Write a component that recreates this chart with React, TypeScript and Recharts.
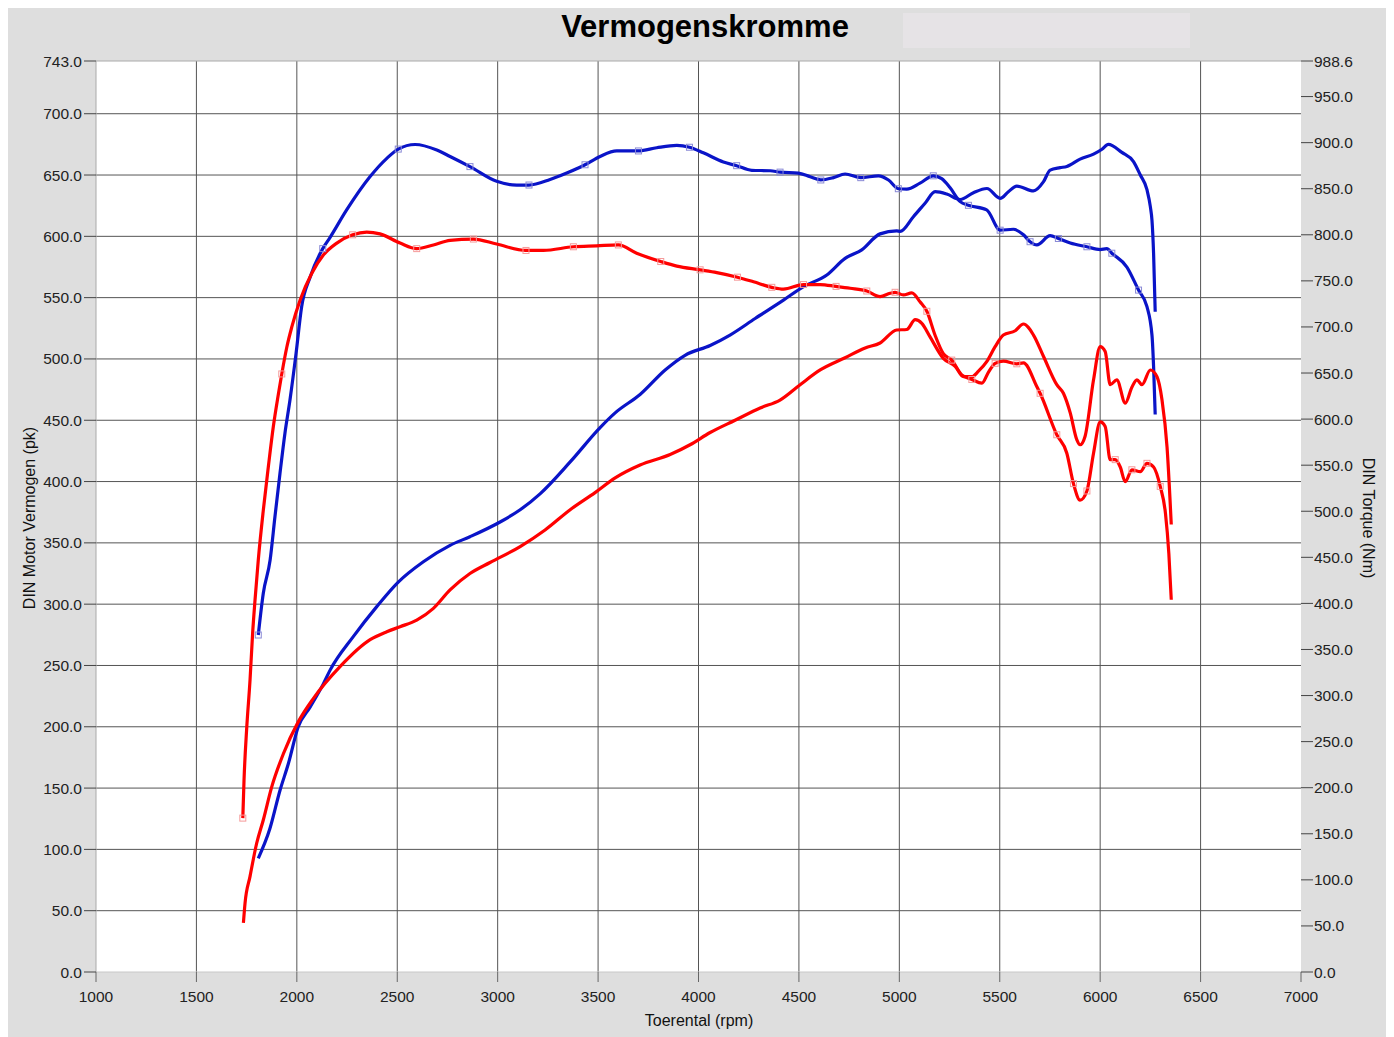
import React from 'react';
import { ComposedChart, Line, XAxis, YAxis, CartesianGrid, ReferenceLine } from 'recharts';

const xTicks = [1000, 1500, 2000, 2500, 3000, 3500, 4000, 4500, 5000, 5500, 6000, 6500, 7000];
const pkTicks = [0, 50, 100, 150, 200, 250, 300, 350, 400, 450, 500, 550, 600, 650, 700, 743];
const nmTicks = [0, 50, 100, 150, 200, 250, 300, 350, 400, 450, 500, 550, 600, 650, 700, 750, 800, 850, 900, 950, 988.6];
const gridPk = [50, 100, 150, 200, 250, 300, 350, 400, 450, 500, 550, 600, 650, 700];
const gridRpm = [1500, 2000, 2500, 3000, 3500, 4000, 4500, 5000, 5500, 6000, 6500];

// Blue torque (Nm)
const btRpm = [1808, 1833, 1867, 1891, 1916, 1941, 1966, 1996, 2024, 2066, 2129, 2165, 2248, 2364, 2448, 2505, 2589, 2697, 2763, 2862, 2995, 3095, 3156, 3261, 3344, 3435, 3510, 3593, 3701, 3792, 3892, 3955, 4024, 4124, 4190, 4265, 4357, 4406, 4497, 4556, 4609, 4672, 4730, 4808, 4896, 4946, 4995, 5037, 5103, 5169, 5211, 5253, 5303, 5344, 5435, 5502, 5568, 5618, 5651, 5685, 5751, 5792, 5851, 5934, 6000, 6033, 6058, 6133, 6191, 6233, 6258, 6266, 6274];
const btNm = [365.7, 411, 447, 494, 541, 585, 621, 671, 722, 754, 785, 797, 827, 863, 883, 893, 898, 892, 885, 874, 858, 854, 854, 860, 867, 876, 885, 891, 891, 894.5, 897, 895, 889, 879, 875, 870, 869.5, 868, 867, 863, 859.5, 862, 866, 862, 864, 859.5, 850, 849.5, 856, 864, 861, 851, 836, 832, 827, 805, 806, 800, 792.5, 789, 799, 796, 791, 787, 784, 785, 780, 765, 740, 722, 691, 657, 605];
const btMarks = [0, 10, 15, 19, 22, 25, 28, 31, 34, 37, 40, 43, 46, 49, 53, 55, 58, 61, 63, 66, 68];

// Blue power (pk)
const bpRpm = [1808, 1866, 1916, 1958, 2007, 2066, 2132, 2165, 2281, 2398, 2505, 2630, 2763, 2862, 3012, 3112, 3211, 3361, 3510, 3585, 3709, 3834, 3933, 4058, 4157, 4282, 4423, 4523, 4639, 4730, 4813, 4904, 4987, 5004, 5070, 5128, 5178, 5236, 5303, 5369, 5436, 5502, 5543, 5585, 5668, 5718, 5751, 5801, 5834, 5900, 5967, 6009, 6041, 6108, 6166, 6200, 6233, 6250, 6258, 6266, 6274];
const bpPk = [92.7, 117, 148, 170, 200, 216, 235, 246, 273.5, 298, 318, 334.6, 348, 355, 367, 377, 390, 416, 444, 456, 471, 491, 503, 511, 519.5, 533, 548, 559, 568.5, 582, 589, 602, 604.4, 604, 616, 627, 636.4, 634.5, 630, 635.6, 639, 631, 636.4, 641, 637, 644.6, 654, 656, 657, 663, 667, 671, 675, 668.5, 661, 650, 638, 624, 613, 586, 538.5];

// Red torque (Nm)
const rtRpm = [1731, 1737, 1750, 1767, 1780, 1792, 1808, 1833, 1858, 1883, 1908, 1925, 1950, 1975, 2016, 2074, 2132, 2199, 2278, 2348, 2414, 2514, 2597, 2680, 2763, 2879, 2995, 3141, 3228, 3377, 3493, 3601, 3692, 3812, 3892, 4008, 4091, 4194, 4274, 4365, 4423, 4523, 4606, 4685, 4755, 4838, 4904, 4954, 4979, 5020, 5062, 5104, 5137, 5178, 5219, 5261, 5311, 5361, 5411, 5444, 5477, 5518, 5585, 5618, 5685, 5701, 5784, 5834, 5867, 5900, 5934, 5967, 6000, 6025, 6050, 6075, 6100, 6125, 6158, 6200, 6233, 6266, 6299, 6325, 6342, 6354];
const rtNm = [167, 208, 263, 317, 368, 404, 447, 501, 548, 592, 627, 649, 678, 700, 729, 758, 778, 791, 800, 803, 801, 791, 785, 789, 794, 795.4, 790, 783, 783, 787, 788, 789, 780, 771, 766, 762, 759, 754, 749, 743, 741, 746, 746, 744, 742, 739, 733, 736.5, 737.6, 734.7, 737, 727, 717, 691, 671, 664, 648, 643, 639, 651, 660.5, 663, 660, 661, 635, 628, 583, 563, 530, 512, 522, 563, 597, 592, 556, 556, 548, 532, 545, 543, 552, 548, 527, 498, 454, 404];
const rtMarks = [0, 11, 18, 22, 25, 27, 29, 31, 33, 35, 37, 39, 41, 43, 45, 48, 52, 55, 57, 60, 62, 65, 66, 68, 70, 75, 78, 80, 82];

// Red power (pk)
const rpRpm = [1734, 1742, 1767, 1800, 1833, 1875, 1933, 2007, 2082, 2215, 2365, 2448, 2514, 2597, 2680, 2763, 2862, 2962, 3112, 3236, 3361, 3485, 3585, 3709, 3859, 3958, 4058, 4182, 4307, 4406, 4506, 4606, 4730, 4830, 4904, 4987, 5037, 5079, 5112, 5153, 5219, 5278, 5319, 5361, 5394, 5436, 5477, 5518, 5577, 5618, 5668, 5718, 5784, 5817, 5851, 5884, 5900, 5925, 5967, 6000, 6025, 6050, 6083, 6125, 6158, 6183, 6208, 6250, 6283, 6308, 6333, 6354];
const rpPk = [40, 56, 78, 105, 124, 151, 178, 204, 223, 249, 271, 277.5, 281.6, 287, 296.6, 311.6, 325, 334, 347, 360.5, 377, 391, 403, 413.5, 422, 430, 440, 450, 460, 466.5, 479, 491, 501, 509, 513, 523.6, 524, 532, 529, 518, 500.5, 494, 485.5, 485.5, 490, 498, 510, 519.5, 523, 528.5, 519.5, 502, 479, 472, 456, 434, 430, 437, 483, 510, 506, 479, 483, 464, 477, 483, 479, 491, 485.5, 466.5, 428, 365];

const FONT = "'Liberation Sans', Arial, Helvetica, sans-serif";
const BLUE = '#0a14c8';
const RED = '#ff0000';

function build(rpm: number[], vals: number[], marks: number[] = []) {
  const set = new Set(marks);
  return rpm.map((r, i) => ({ rpm: r, v: vals[i], m: set.has(i) }));
}

const btData = build(btRpm, btNm, btMarks);
const bpData = build(bpRpm, bpPk);
const rtData = build(rtRpm, rtNm, rtMarks);
const rpData = build(rpRpm, rpPk);

const markerDot = (color: string) => (props: any) => {
  const { cx, cy, payload, index } = props;
  if (!payload || !payload.m || cx == null || cy == null) return <g key={`d-${index}`} />;
  return (
    <rect key={`d-${index}`} x={cx - 3} y={cy - 3} width={6} height={6} fill="none" stroke={color} strokeWidth={1} />
  );
};

const tickStyle = { fontSize: 15.5, fill: '#222', fontFamily: FONT };

export default function App() {
  return (
    <div style={{ position: 'relative', width: 1386, height: 1029, background: '#dedede', fontFamily: FONT }}>
      <div style={{ position: 'absolute', left: 895, top: 5, width: 287, height: 35, background: '#e6e3e6' }} />
      <div
        style={{
          position: 'absolute', left: 697, top: 3, transform: 'translateX(-50%)', fontSize: 31, fontWeight: 'bold',
          lineHeight: '31px', whiteSpace: 'nowrap', color: '#000',
        }}
      >
        Vermogenskromme
      </div>
      <ComposedChart width={1386} height={1029} margin={{ top: 53, right: 0, bottom: 0, left: 0 }}>
        <CartesianGrid
          yAxisId="left"
          stroke="#555"
          strokeWidth={1}
          fill="#ffffff"
          fillOpacity={1}
          horizontalValues={gridPk}
          verticalValues={gridRpm}
        />
        <XAxis
          type="number"
          dataKey="rpm"
          domain={[1000, 7000]}
          ticks={xTicks}
          interval={0}
          allowDataOverflow
          height={65}
          tickSize={10}
          tickMargin={9}
          axisLine={{ stroke: '#c8c8c8' }}
          tickLine={{ stroke: '#666' }}
          tick={tickStyle}
        />
        <YAxis
          yAxisId="left"
          orientation="left"
          type="number"
          domain={[0, 743]}
          ticks={pkTicks}
          interval={0}
          allowDataOverflow
          width={88}
          tickSize={12}
          tickMargin={2}
          axisLine={{ stroke: '#aaa' }}
          tickLine={{ stroke: '#444' }}
          tick={tickStyle}
          tickFormatter={(v: number) => v.toFixed(1)}
        />
        <YAxis
          yAxisId="right"
          orientation="right"
          type="number"
          domain={[0, 988.6]}
          ticks={nmTicks}
          interval={0}
          allowDataOverflow
          width={93}
          tickSize={12}
          tickMargin={1}
          axisLine={false}
          tickLine={{ stroke: '#444' }}
          tick={tickStyle}
          tickFormatter={(v: number) => v.toFixed(1)}
        />
        <ReferenceLine yAxisId="left" y={743} stroke="#aaa" />
        <Line
          yAxisId="right"
          data={btData}
          dataKey="v"
          type="monotone"
          stroke={BLUE}
          strokeWidth={3.2}
          dot={markerDot('#8a8ad6')}
          activeDot={false}
          isAnimationActive={false}
        />
        <Line
          yAxisId="left"
          data={bpData}
          dataKey="v"
          type="monotone"
          stroke={BLUE}
          strokeWidth={3.2}
          dot={false}
          activeDot={false}
          isAnimationActive={false}
        />
        <Line
          yAxisId="right"
          data={rtData}
          dataKey="v"
          type="monotone"
          stroke={RED}
          strokeWidth={3.2}
          dot={markerDot('#f59a9a')}
          activeDot={false}
          isAnimationActive={false}
        />
        <Line
          yAxisId="left"
          data={rpData}
          dataKey="v"
          type="monotone"
          stroke={RED}
          strokeWidth={3.2}
          dot={false}
          activeDot={false}
          isAnimationActive={false}
        />
      </ComposedChart>
      <div
        style={{
          position: 'absolute', left: 22, top: 510, transform: 'translate(-50%, -50%) rotate(-90deg)',
          fontSize: 16, lineHeight: '16px', whiteSpace: 'nowrap', color: '#111',
        }}
      >
        DIN Motor Vermogen (pk)
      </div>
      <div
        style={{
          position: 'absolute', left: 1360, top: 510, transform: 'translate(-50%, -50%) rotate(90deg)',
          fontSize: 16, lineHeight: '16px', whiteSpace: 'nowrap', color: '#111',
        }}
      >
        DIN Torque (Nm)
      </div>
      <div
        style={{
          position: 'absolute', left: 691, top: 1004.5, transform: 'translateX(-50%)',
          fontSize: 16, lineHeight: '16px', whiteSpace: 'nowrap', color: '#111',
        }}
      >
        Toerental (rpm)
      </div>
    </div>
  );
}
